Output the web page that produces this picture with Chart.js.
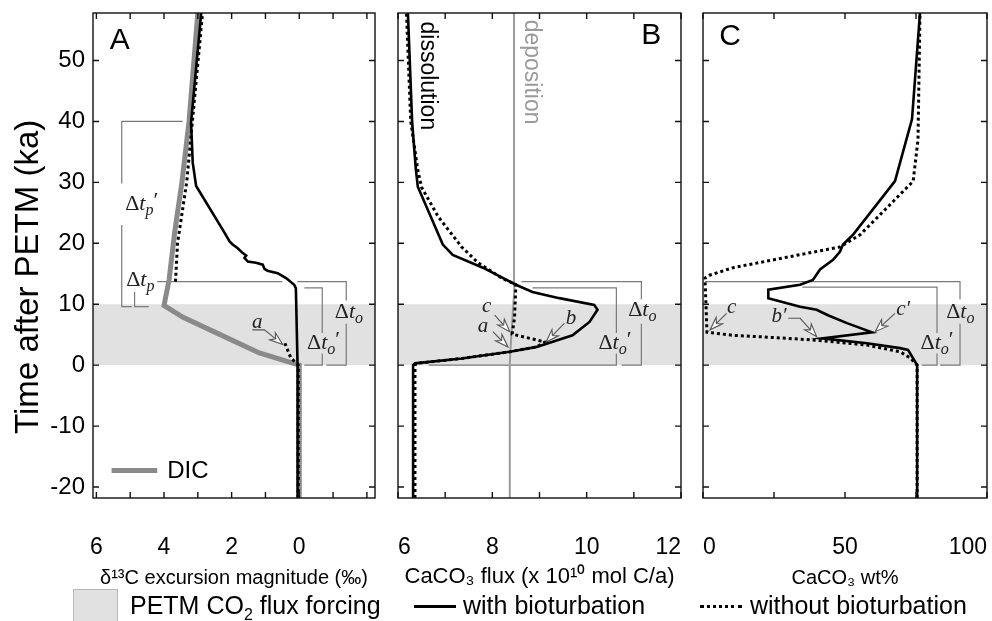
<!DOCTYPE html>
<html>
<head>
<meta charset="utf-8">
<title>PETM carbonate response</title>
<script src="https://cdn.jsdelivr.net/npm/chart.js@4.4.1/dist/chart.umd.min.js"></script>
<style>
  html, body { margin: 0; padding: 0; background: #fff; }
  #fig { position: relative; width: 992px; height: 621px; overflow: hidden; background: #fff;
         font-family: "Liberation Sans", Arial, sans-serif; color: #000; }
  #fig canvas { position: absolute; top: 0; }
  .key { position: absolute; top: 591px; font-size: 25px; line-height: 28px; white-space: nowrap; }
  .swatch { position: absolute; }
</style>
</head>
<body>
<div id="fig">
  <canvas id="panel-a" width="385" height="596" style="left:0px"></canvas>
  <canvas id="panel-b" width="312" height="596" style="left:388px"></canvas>
  <canvas id="panel-c" width="299" height="596" style="left:693px"></canvas>

  <div class="swatch" style="left:73px;top:589px;width:43px;height:34px;background:#e1e1e1;border:1px solid #b8b8b8;"></div>
  <div class="key" style="left:130px;">PETM CO<sub style="font-size:16px;">2</sub> flux forcing</div>
  <div class="swatch" style="left:414px;top:605px;width:42px;height:3px;background:#000;"></div>
  <div class="key" style="left:463px;">with bioturbation</div>
  <div class="swatch" style="left:700px;top:605px;width:42px;height:0;border-top:3px dotted #000;"></div>
  <div class="key" style="left:750px;">without bioturbation</div>
</div>

<script>
// time axis, ka after the PETM onset
const timeMin = -21.8, timeMax = 57.8;
const timeTicks = [-20, -10, 0, 10, 20, 30, 40, 50];
const forcingStart = 0, forcingEnd = 10;

// panel A: d13C excursion magnitude (per mil), axis runs right to left
const aTicks = [6, 5, 4, 3, 2, 1, 0, -1, -2];
const aLabels = [6, 4, 2, 0];
const dicTime = [-21.8, 0, 2, 5.3, 7.9, 9.8, 14, 22, 30, 40, 57.8];
const dicMag  = [0, 0, 1.18, 2.45, 3.45, 4.0, 3.85, 3.68, 3.47, 3.26, 3.0];
const aBioTime = [-21.8, 0, 12.6, 13.2, 14.3, 15.1, 15.5, 15.8, 16.5, 16.8, 17.0, 17.6, 18.0, 18.4, 19.2, 19.8, 20.3, 22.2, 29.4, 33.2, 39.8, 57.8];
const aBioMag  = [0.05, 0.05, 0.1, 0.15, 0.39, 0.64, 0.94, 1.03, 1.08, 1.28, 1.52, 1.62, 1.57, 1.67, 1.82, 1.97, 2.06, 2.26, 3.05, 3.15, 3.2, 2.9];
const aNoBioTimeEarly = [-21.8, 0, 1.2, 3.8];
const aNoBioMagEarly  = [0.03, 0.03, 0.25, 0.44];
const aNoBioTimeLate  = [13.7, 20, 30, 40, 57.8];
const aNoBioMagLate   = [3.66, 3.6, 3.33, 3.16, 2.86];

// panel B: CaCO3 flux (x 10^10 mol C/a)
const bTicks = [6, 7, 8, 9, 10, 11, 12];
const bLabels = [6, 8, 10, 12];
const depositionTime = [-21.8, 0, 2, 13, 57.8];
const depositionFlux = [8.37, 8.37, 8.38, 8.47, 8.46];
const bBioTime = [-21.8, 0, 0.3, 1.1, 2.2, 3.0, 4.9, 7.1, 9.1, 9.9, 11, 12, 13.2, 16, 18.1, 19.8, 29.3, 32, 39.9, 57.8];
const bBioFlux = [6.32, 6.32, 6.36, 7.35, 8.37, 8.94, 9.7, 10.06, 10.23, 10.16, 9.42, 8.85, 8.5, 7.8, 7.16, 6.95, 6.42, 6.38, 6.3, 6.21];
const bNoBioTime = [-21.8, 0, 0.3, 1.1, 2.2, 3.0, 3.8, 5.1, 7.7, 13.2, 14.3, 16.8, 19.4, 24.4, 29.2, 32, 40, 57.8];
const bNoBioFlux = [6.36, 6.36, 6.4, 7.35, 8.37, 8.94, 9.12, 8.42, 8.47, 8.5, 8.2, 7.7, 7.35, 6.85, 6.5, 6.42, 6.27, 6.18];

// panel C: CaCO3 wt%
const cTicks = [0, 25, 50, 75, 100];
const cLabels = [0, 50, 100];
const cBioTime = [-21.8, 0, 2.5, 2.8, 3.6, 4.4, 5.4, 6.9, 8.2, 9.1, 9.6, 11, 12.4, 13.2, 14, 15.7, 17.3, 18.6, 19.8, 21.4, 30.2, 40.4, 57.8];
const cBioWt   = [75.4, 75.4, 72.2, 69.4, 57.7, 41.9, 59.5, 50.7, 44, 40, 34.2, 23, 23, 34.2, 38.7, 41.2, 45.8, 48.2, 49.3, 52.8, 67.6, 73.6, 76.4];
const cNoBioTime = [-21.8, 0, 1.2, 2.2, 3.3, 4.1, 4.6, 4.9, 5.4, 14.3, 14.8, 16, 17.6, 19.4, 21.4, 25, 30.2, 37, 57.8];
const cNoBioWt   = [75.4, 75.4, 72.9, 69.4, 57.7, 40, 22.5, 10.6, 1.4, 0.7, 2.5, 10.6, 28.2, 48.2, 55.3, 63, 74, 75.7, 76.4];

const SANS = '"Liberation Sans", Arial, sans-serif';
const SERIF = '"Liberation Serif", "DejaVu Serif", serif';
const BRACKET = '#7a7a7a';

function pts(xs, ts) {
  return xs.map((v, i) => ({ x: v, y: ts[i] }));
}

function line(data, color, width, dash) {
  return {
    data: data, showLine: true, borderColor: color, borderWidth: width,
    borderDash: dash || [], pointRadius: 0, fill: false, tension: 0, spanGaps: false
  };
}
const solid = data => line(data, '#000', 2.6);
const dotted = data => line(data, '#000', 3, [3, 3]);

// "Delta t" label: upright Delta, italic t, italic subscript, optional prime
function drawDelta(ctx, cx, cy, sub, prime) {
  const big = '22px ' + SERIF, it = 'italic 22px ' + SERIF, small = 'italic 16px ' + SERIF;
  ctx.font = big; const wD = ctx.measureText('\u0394').width;
  ctx.font = it; const wT = ctx.measureText('t').width;
  ctx.font = small; const wS = ctx.measureText(sub).width;
  ctx.font = big; const wP = prime ? ctx.measureText('\u2032').width : 0;
  let x = cx - (wD + wT + wS + wP) / 2;
  const base = cy + 6;
  ctx.fillStyle = '#222';
  ctx.textAlign = 'left'; ctx.textBaseline = 'alphabetic';
  ctx.font = big; ctx.fillText('\u0394', x, base); x += wD;
  ctx.font = it; ctx.fillText('t', x, base); x += wT;
  ctx.font = small; ctx.fillText(sub, x, base + 5); x += wS;
  if (prime) { ctx.font = big; ctx.fillText('\u2032', x, base - 3); }
}

// thin shaft with a hollow head; last point is the tip
function drawArrow(ctx, p) {
  const n = p.length;
  const [tx, ty] = p[n - 1], [qx, qy] = p[n - 2];
  const ang = Math.atan2(ty - qy, tx - qx);
  const L = 13, W = 4.5;
  const bx = tx - L * Math.cos(ang), by = ty - L * Math.sin(ang);
  ctx.strokeStyle = '#555'; ctx.lineWidth = 1.1; ctx.setLineDash([]);
  ctx.beginPath();
  ctx.moveTo(p[0][0], p[0][1]);
  for (let i = 1; i < n - 1; i++) ctx.lineTo(p[i][0], p[i][1]);
  ctx.lineTo(bx + 4 * Math.cos(ang), by + 4 * Math.sin(ang));
  ctx.stroke();
  ctx.beginPath();
  ctx.moveTo(tx, ty);
  ctx.lineTo(bx - W * Math.sin(ang), by + W * Math.cos(ang));
  ctx.lineTo(bx + 4 * Math.cos(ang), by + 4 * Math.sin(ang));
  ctx.lineTo(bx + W * Math.sin(ang), by - W * Math.cos(ang));
  ctx.closePath();
  ctx.fillStyle = '#fff'; ctx.fill(); ctx.stroke();
}

function makeDecor(d) {
  return {
    id: 'decor' + d.name,
    beforeDatasetsDraw(chart) {
      const { ctx, chartArea: a, scales: { x, y } } = chart;
      const yTop = y.getPixelForValue(forcingEnd), yBot = y.getPixelForValue(forcingStart);
      ctx.save();
      ctx.fillStyle = '#e1e1e1';
      ctx.fillRect(a.left, yTop, a.right - a.left, yBot - yTop);
      ctx.strokeStyle = BRACKET; ctx.lineWidth = 1.2;
      (d.brackets || []).forEach(path => {
        ctx.beginPath();
        path.forEach(([v, t], i) => {
          const px = x.getPixelForValue(v), py = y.getPixelForValue(t);
          if (i === 0) ctx.moveTo(px, py); else ctx.lineTo(px, py);
        });
        ctx.stroke();
      });
      ctx.restore();
    },
    afterDatasetsDraw(chart) {
      const { ctx, scales: { x, y } } = chart;
      const P = (v, t) => [x.getPixelForValue(v), y.getPixelForValue(t)];
      ctx.save();
      (d.deltas || []).forEach(s => {
        const [px, py] = P(s.v, s.t);
        drawDelta(ctx, px, py, s.sub, s.prime);
      });
      (d.arrows || []).forEach(s => {
        drawArrow(ctx, s.path.map(([v, t]) => P(v, t)));
        const [px, py] = P(s.v, s.t);
        ctx.font = 'italic 21px ' + SERIF; ctx.fillStyle = '#222';
        ctx.textAlign = 'center'; ctx.textBaseline = 'middle';
        ctx.fillText(s.label, px, py);
      });
      (d.texts || []).forEach(s => {
        const [px, py] = P(s.v, s.t);
        ctx.save();
        ctx.translate(px, py);
        if (s.rotate) ctx.rotate(Math.PI / 2);
        ctx.font = s.font; ctx.fillStyle = s.color || '#000';
        ctx.textAlign = s.align || 'center'; ctx.textBaseline = 'middle';
        ctx.fillText(s.text, 0, 0);
        ctx.restore();
      });
      if (d.key) {
        const [x0, py] = P(d.key.from, d.key.t), [x1] = P(d.key.to, d.key.t);
        ctx.strokeStyle = '#8a8a8a'; ctx.lineWidth = 5; ctx.setLineDash([]);
        ctx.beginPath(); ctx.moveTo(x0, py); ctx.lineTo(x1, py); ctx.stroke();
        ctx.font = '24px ' + SANS; ctx.fillStyle = '#000';
        ctx.textAlign = 'left'; ctx.textBaseline = 'middle';
        ctx.fillText(d.key.text, x1 + 10, py + 1);
      }
      ctx.restore();
    },
    afterDraw(chart) {
      const { ctx, chartArea: a, scales: { x, y } } = chart;
      ctx.save();
      ctx.strokeStyle = '#111'; ctx.lineWidth = 1.4; ctx.setLineDash([]);
      ctx.strokeRect(a.left, a.top, a.right - a.left, a.bottom - a.top);
      ctx.beginPath();
      d.xTicks.forEach(v => {
        const px = x.getPixelForValue(v);
        ctx.moveTo(px, a.bottom); ctx.lineTo(px, a.bottom - 6);
        ctx.moveTo(px, a.top); ctx.lineTo(px, a.top + 6);
      });
      timeTicks.forEach(t => {
        const py = y.getPixelForValue(t);
        ctx.moveTo(a.left, py); ctx.lineTo(a.left + 6, py);
        ctx.moveTo(a.right, py); ctx.lineTo(a.right - 6, py);
      });
      ctx.stroke();
      // shared time-axis title, set a little below the axis centre
      if (d.timeTitle) {
        ctx.translate(29, y.getPixelForValue(d.timeTitle.t));
        ctx.rotate(-Math.PI / 2);
        ctx.font = '33px ' + SANS; ctx.fillStyle = '#000';
        ctx.textAlign = 'center'; ctx.textBaseline = 'middle';
        ctx.fillText(d.timeTitle.text, 0, 0);
      }
      ctx.restore();
    }
  };
}

function noPad(s) { s.paddingLeft = 0; s.paddingRight = 0; s.paddingTop = 0; s.paddingBottom = 0; }

function makePanel(id, cfg) {
  const yAxis = {
    type: 'linear', min: timeMin, max: timeMax, display: cfg.showTime,
    grid: { display: false, drawTicks: false }, border: { display: false },
    ticks: { stepSize: 10, includeBounds: false, padding: 8, color: '#000', font: { family: SANS, size: 24 } },
    afterFit: s => { s.width = cfg.showTime ? 93 : 0; noPad(s); }
  };
  return new Chart(document.getElementById(id), {
    type: 'scatter',
    data: { datasets: cfg.datasets },
    options: {
      responsive: false, animation: false, events: [],
      layout: { padding: cfg.padding },
      plugins: { legend: { display: false }, tooltip: { enabled: false } },
      scales: {
        x: {
          type: 'linear', min: cfg.min, max: cfg.max, reverse: !!cfg.reverse,
          grid: { display: false, drawTicks: false }, border: { display: false },
          ticks: {
            stepSize: cfg.step, includeBounds: false, autoSkip: false, maxRotation: 0,
            padding: 36, align: cfg.align || 'center', color: '#000',
            font: { family: SANS, size: 23 },
            callback: v => (cfg.labels.includes(v) ? String(v) : '')
          },
          title: { display: true, text: cfg.title, color: '#000',
                   font: { family: SANS, size: cfg.titleSize }, padding: { top: 0, bottom: 6 } },
          afterFit: s => { s.height = 98; noPad(s); }
        },
        y: yAxis
      }
    },
    plugins: [makeDecor(cfg.decor)]
  });
}

// Panel A
makePanel('panel-a', {
  min: -2.24, max: 6.1, step: 1, reverse: true, labels: aLabels, showTime: true,
  padding: { top: 13, right: 10, left: 0, bottom: 0 },
  title: '\u03b4\u00b9\u00b3C excursion magnitude (\u2030)', titleSize: 20,
  datasets: [
    solid(pts(aBioMag, aBioTime)),
    dotted(pts(aNoBioMagEarly, aNoBioTimeEarly).concat([{ x: NaN, y: NaN }], pts(aNoBioMagLate, aNoBioTimeLate))),
    line(pts(dicMag, dicTime), '#8a8a8a', 5)
  ],
  decor: {
    name: 'A', xTicks: aTicks,
    timeTitle: { text: 'Time after PETM (ka)', t: 14.5 },
    brackets: [
      [[3.45, 40], [5.25, 40], [5.25, 29.8]],
      [[5.25, 23], [5.25, 9.6], [4.95, 9.6]],
      [[4.2, 13.7], [0.5, 13.7]],
      [[4.87, 12], [4.87, 9.6], [4.45, 9.6]],
      [[0.06, 13.7], [-1.39, 13.7], [-1.39, 10.6]],
      [[-1.39, 6.8], [-1.39, 0], [-0.8, 0]],
      [[-0.15, 12.7], [-0.68, 12.7], [-0.68, 5.3]],
      [[-0.68, 1.9], [-0.68, 0], [-0.15, 0]]
    ],
    deltas: [
      { v: 4.66, t: 26.4, sub: 'p', prime: true },
      { v: 4.7, t: 14.0, sub: 'p', prime: false },
      { v: -1.47, t: 8.8, sub: 'o', prime: false },
      { v: -0.72, t: 3.6, sub: 'o', prime: true }
    ],
    arrows: [
      { label: 'a', v: 1.24, t: 7.0, path: [[1.39, 5.8], [1.03, 5.8], [0.49, 3.4]] }
    ],
    texts: [
      { text: 'A', v: 5.31, t: 53.2, font: '30px ' + SANS }
    ],
    key: { from: 5.55, to: 4.2, t: -17.3, text: 'DIC' }
  }
});

// Panel B
makePanel('panel-b', {
  min: 6, max: 12, step: 1, labels: bLabels, showTime: false, align: 'inner',
  padding: { top: 13, right: 19, left: 10, bottom: 0 },
  title: 'CaCO\u2083 flux (x 10\u00b9\u2070 mol C/a)', titleSize: 22,
  datasets: [
    solid(pts(bBioFlux, bBioTime)),
    dotted(pts(bNoBioFlux, bNoBioTime)),
    line(pts(depositionFlux, depositionTime), '#9a9a9a', 2)
  ],
  decor: {
    name: 'B', xTicks: bTicks,
    brackets: [
      [[8.62, 13.7], [11.16, 13.7], [11.16, 10.8]],
      [[11.16, 6.8], [11.16, 0], [10.74, 0]],
      [[8.85, 12.7], [10.63, 12.7], [10.63, 5.3]],
      [[10.63, 1.9], [10.63, 0], [6.65, 0]]
    ],
    deltas: [
      { v: 11.18, t: 9.0, sub: 'o', prime: false },
      { v: 10.6, t: 3.6, sub: 'o', prime: true }
    ],
    arrows: [
      { label: 'c', v: 7.88, t: 9.6, path: [[8.05, 8.2], [8.37, 5.5]] },
      { label: 'a', v: 7.80, t: 6.3, path: [[8.01, 5.5], [8.33, 3.0]] },
      { label: 'b', v: 9.67, t: 7.7, path: [[9.53, 6.9], [9.14, 3.8]] }
    ],
    texts: [
      { text: 'B', v: 11.37, t: 54, font: '30px ' + SANS },
      { text: 'dissolution', v: 6.63, t: 56.4, font: '23px ' + SANS, rotate: true, align: 'left', color: '#000' },
      { text: 'deposition', v: 8.83, t: 56.7, font: '23px ' + SANS, rotate: true, align: 'left', color: '#9a9a9a' }
    ]
  }
});

// Panel C
makePanel('panel-c', {
  min: 0, max: 100, step: 25, labels: cLabels, showTime: false, align: 'inner',
  padding: { top: 13, right: 5, left: 10, bottom: 0 },
  title: 'CaCO\u2083 wt%', titleSize: 20,
  datasets: [
    solid(pts(cBioWt, cBioTime)),
    dotted(pts(cNoBioWt, cNoBioTime))
  ],
  decor: {
    name: 'C', xTicks: cTicks,
    brackets: [
      [[0.7, 13.7], [90.5, 13.7], [90.5, 10.8]],
      [[90.5, 6.8], [90.5, 0], [83.5, 0]],
      [[35, 12.8], [82.4, 12.8], [82.4, 5.3]],
      [[82.4, 1.9], [82.4, 0], [77, 0]]
    ],
    deltas: [
      { v: 90.6, t: 8.8, sub: 'o', prime: false },
      { v: 82.4, t: 3.6, sub: 'o', prime: true }
    ],
    arrows: [
      { label: 'c', v: 10.1, t: 9.4, path: [[8.3, 8.5], [2.5, 5.8]] },
      { label: 'b\u2032', v: 26.8, t: 8.0, path: [[30, 7.7], [34.2, 7.7], [40, 4.7]] },
      { label: 'c\u2032', v: 70.5, t: 9.2, path: [[67.6, 8.5], [60.6, 5.5]] }
    ],
    texts: [
      { text: 'C', v: 9.5, t: 53.9, font: '30px ' + SANS }
    ]
  }
});
</script>
</body>
</html>
